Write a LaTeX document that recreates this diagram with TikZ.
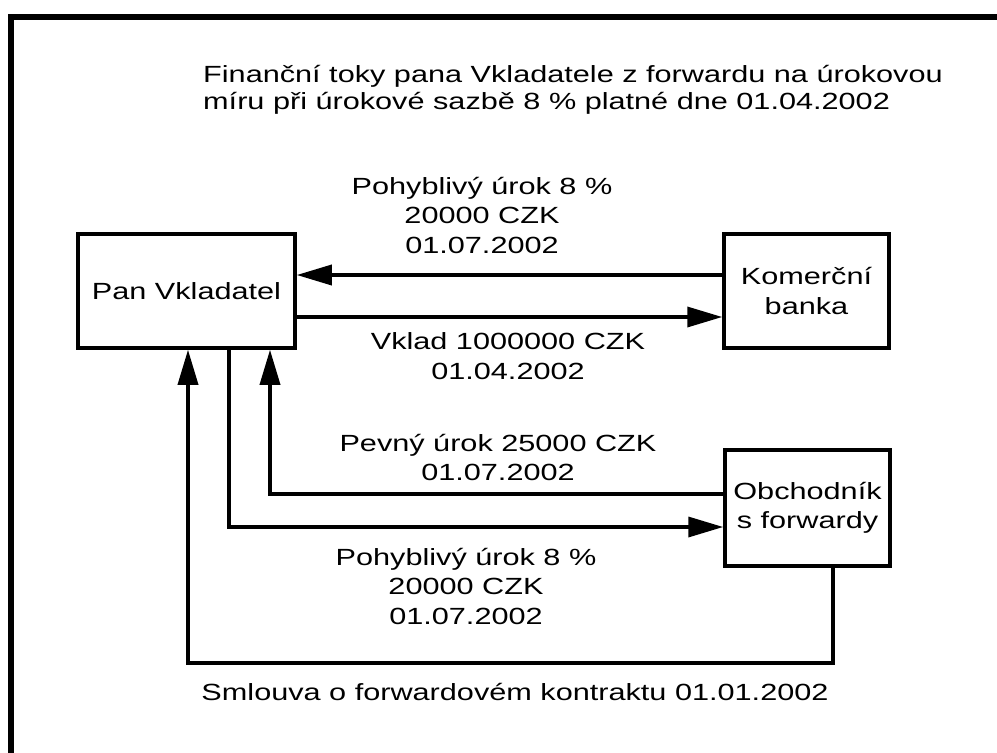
\documentclass[tikz,border=0pt]{standalone}
\usepackage{fontspec}
\setmainfont[FakeStretch=1.31]{Liberation Sans}
\usetikzlibrary{arrows.meta}
\begin{document}
\begin{tikzpicture}[x=1pt,y=-1pt,
  every node/.style={font=\fontsize{23.4}{29.5}\selectfont, inner sep=0pt},
  party/.style={draw, line width=3.5pt, align=center},
  flow/.style={line width=3.5pt},
  arr/.style={flow, -{Triangle[length=35pt,width=20pt]}},
  lbl/.style={align=center}]
\useasboundingbox (0,0) rectangle (997,753);
% frame along the left and top edges
\draw[line width=6pt] (11,753) -- (11,17) -- (997,17);

% title
\node[align=left, anchor=west, font=\fontsize{23.4}{27}\selectfont] (title) at (203,89.5)
  {Finanční toky pana Vkladatele z forwardu na úrokovou\\míru při úrokové sazbě 8 \% platné dne 01.04.2002};

% parties
\node[party, minimum width=217pt, minimum height=114pt] (pan) at (186.5,291) {Pan Vkladatel};
\node[party, minimum width=165pt, minimum height=114pt] (kb) at (806.5,291) {Komerční\\banka};
\node[party, minimum width=165pt, minimum height=116pt] (ob) at (807.5,508) {Obchodník\\s forwardy};

% helper levels and columns
\coordinate (yA) at (0,275);
\coordinate (yB) at (0,317);
\coordinate (yC) at (0,494);
\coordinate (yD) at (0,527);
\coordinate (yE) at (0,663);
\coordinate (xA) at (188,0);
\coordinate (xB) at (229,0);
\coordinate (xC) at (270,0);
\coordinate (xD) at (833,0);

% flows between the bank and Pan Vkladatel
\draw[arr] (kb.west |- yA) -- (pan.east |- yA);
\draw[arr] (pan.east |- yB) -- (kb.west |- yB);

% flows between the forward dealer and Pan Vkladatel
\draw[arr] (ob.west |- yC) -- (xC |- yC) -- (xC |- pan.south);
\draw[arr] (xB |- pan.south) -- (xB |- yD) -- (ob.west |- yD);
\draw[arr] (xD |- ob.south) -- (xD |- yE) -- (xA |- yE) -- (xA |- pan.south);

% labels
\node[lbl] (l1) at (482,215) {Pohyblivý úrok 8 \%\\20000 CZK\\01.07.2002};
\node[lbl] (l2) at (508,356) {Vklad 1000000 CZK\\01.04.2002};
\node[lbl] (l3) at (498,457.5) {Pevný úrok 25000 CZK\\01.07.2002};
\node[lbl] (l4) at (466,586) {Pohyblivý úrok 8 \%\\20000 CZK\\01.07.2002};
\node[lbl] (l5) at (515,692) {Smlouva o forwardovém kontraktu 01.01.2002};
\end{tikzpicture}
\end{document}
